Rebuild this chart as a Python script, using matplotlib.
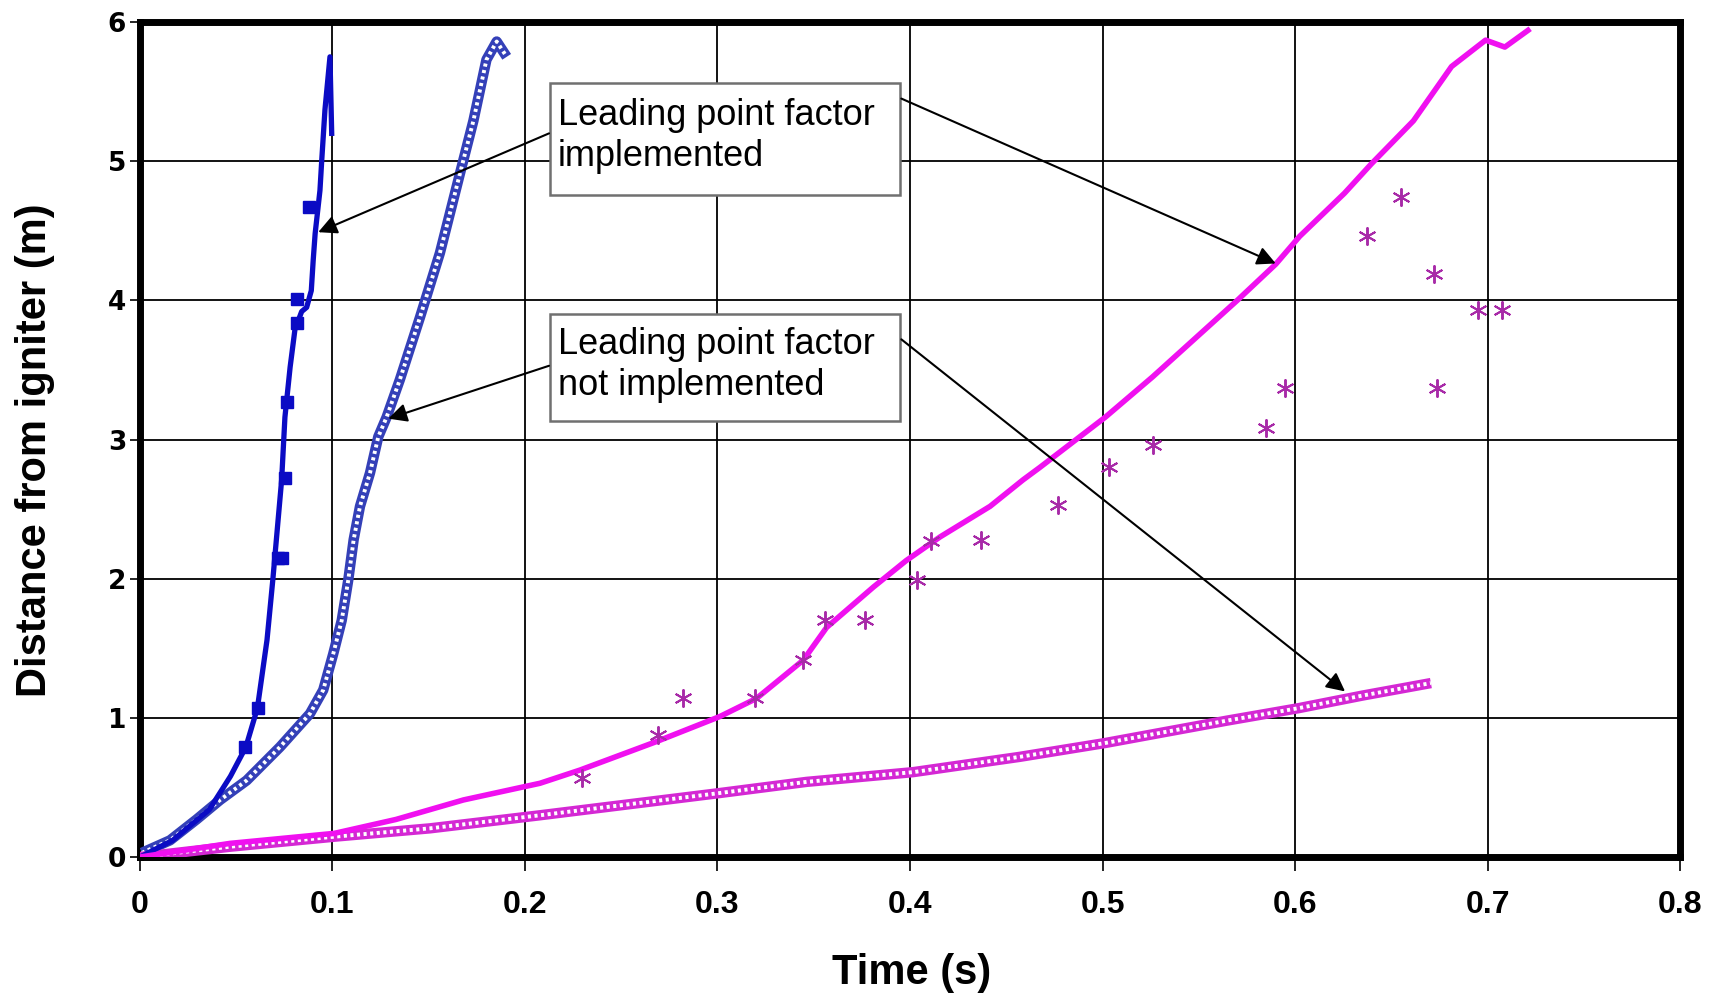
import matplotlib
matplotlib.use("Agg")
import matplotlib.pyplot as plt
from matplotlib.patches import Rectangle

plt.rcParams['font.family'] = ['Liberation Sans', 'DejaVu Sans']

# simulation, leading point factor implemented (blue, solid)
blue_impl_t = [0, 0.017, 0.036, 0.047, 0.055, 0.061, 0.066, 0.069, 0.0736, 0.0753, 0.078, 0.0805,
               0.084, 0.0866, 0.089, 0.090, 0.091, 0.0935, 0.0944, 0.0961, 0.0987, 0.0996]
blue_impl_d = [0, 0.12, 0.34, 0.58, 0.79, 1.07, 1.56, 1.99, 2.71, 3.16, 3.52, 3.79,
               3.92, 3.95, 4.07, 4.29, 4.48, 4.79, 5.0, 5.37, 5.75, 5.2]
# experiment (blue squares)
blue_exp_t = [0.0545, 0.0615, 0.0715, 0.074, 0.0755, 0.0765, 0.0814, 0.0814, 0.088]
blue_exp_d = [0.79, 1.07, 2.15, 2.15, 2.72, 3.27, 3.84, 4.01, 4.67]
# simulation, not implemented (blue, hatched)
blue_noimpl_t = [0.001, 0.0156, 0.0294, 0.0416, 0.0554, 0.0727, 0.0883, 0.0952, 0.1004, 0.1048,
                 0.1082, 0.111, 0.1143, 0.1195, 0.1238, 0.1281, 0.135, 0.1455, 0.1558, 0.1662,
                 0.1732, 0.18, 0.1853, 0.1905]
blue_noimpl_d = [0.03, 0.12, 0.27, 0.41, 0.55, 0.79, 1.03, 1.2, 1.46, 1.70,
                 1.99, 2.28, 2.52, 2.76, 3.02, 3.16, 3.43, 3.88, 4.34, 4.91,
                 5.29, 5.73, 5.86, 5.75]

# magenta series
mag_impl_t = [0, 0.0468, 0.101, 0.133, 0.168, 0.2078, 0.2286, 0.2684, 0.3013, 0.3203, 0.3446,
              0.3567, 0.381, 0.398, 0.4156, 0.4416, 0.4587, 0.4675, 0.5014, 0.526, 0.570, 0.590,
              0.6024, 0.6257, 0.6396, 0.6615, 0.6813, 0.699, 0.709, 0.721]
mag_impl_d = [0, 0.098, 0.17, 0.27, 0.41, 0.53, 0.625, 0.83, 1.01, 1.14, 1.415,
              1.65, 1.94, 2.13, 2.30, 2.52, 2.71, 2.80, 3.16, 3.45, 4.0, 4.26,
              4.46, 4.77, 4.98, 5.29, 5.68, 5.87, 5.82, 5.94]
mag_noimpl_t = [0, 0.0468, 0.101, 0.1506, 0.2078, 0.3013, 0.3463, 0.4017, 0.4571, 0.5017,
                0.5646, 0.602, 0.635, 0.6706]
mag_noimpl_d = [0, 0.074, 0.146, 0.206, 0.30, 0.46, 0.54, 0.61, 0.72, 0.82,
                0.98, 1.07, 1.16, 1.25]
mag_exp_t = [0.2294, 0.2693, 0.2823, 0.3195, 0.3446, 0.3558, 0.3766, 0.4035, 0.411, 0.437, 0.477,
             0.5034, 0.526, 0.585, 0.5948, 0.6376, 0.655, 0.672, 0.674, 0.695, 0.7075]
mag_exp_d = [0.565, 0.876, 1.14, 1.14, 1.415, 1.70, 1.70, 1.99, 2.27, 2.28, 2.53,
             2.80, 2.96, 3.08, 3.37, 4.46, 4.74, 4.19, 3.37, 3.93, 3.93]

x_ticks = [0, 0.1, 0.2, 0.3, 0.4, 0.5, 0.6, 0.7, 0.8]
x_labels = ["0", "0.1", "0.2", "0.3", "0.4", "0.5", "0.6", "0.7", "0.8"]
y_ticks = [0, 1, 2, 3, 4, 5, 6]

box1_text = "Leading point factor\nimplemented"
box2_text = "Leading point factor\nnot implemented"

fig = plt.figure(figsize=(17.11, 9.97), dpi=100)
ax = fig.add_axes([0.0818, 0.1404, 0.9001, 0.8375])

blue = '#0b0bc4'
blue_h = '#3440b8'
mag = '#f010f0'
mag_h = '#d428d4'
mag_pt = '#a82aa8'


def hatched(ax, t, d, color):
    # thick coloured band with white dots inside, like the excel pattern line
    ax.plot(t, d, color=color, lw=7.5, solid_capstyle='butt', solid_joinstyle='round', zorder=3)
    ax.plot(t, d, color='white', lw=2.8, ls=(0, (0.8, 0.9)), zorder=3)


hatched(ax, blue_noimpl_t, blue_noimpl_d, blue_h)
hatched(ax, mag_noimpl_t, mag_noimpl_d, mag_h)
ax.plot(blue_impl_t, blue_impl_d, color=blue, lw=3.8, zorder=4)
ax.plot(blue_exp_t, blue_exp_d, ls='none', marker='s', ms=9, color=blue, zorder=4)
ax.plot(mag_impl_t, mag_impl_d, color=mag, lw=4, zorder=4)
ax.plot(mag_exp_t, mag_exp_d, ls='none', marker=(6, 2, 0), ms=13, mew=1.4, color=mag_pt, zorder=4)

ax.set_xlim(0, 0.8)
ax.set_ylim(0, 6)
ax.set_xticks(x_ticks)
ax.set_xticklabels(x_labels)
ax.set_yticks(y_ticks)
ax.grid(True, color='black', lw=1.3)
ax.set_axisbelow(True)
for s in ax.spines.values():
    s.set_linewidth(5)
ax.tick_params(axis='x', direction='out', length=10, width=1.2, pad=14, labelsize=23)
ax.tick_params(axis='y', direction='out', length=7, width=1.2, pad=3, labelsize=19)
for lab in ax.get_xticklabels():
    lab.set_fontweight('bold')
for lab in ax.get_yticklabels():
    lab.set_fontweight('heavy')
    lab.set_family('DejaVu Sans')

ax.set_xlabel("Time (s)", fontsize=30, fontweight='bold')
ax.set_ylabel("Distance from igniter (m)", fontsize=30, fontweight='bold')
ax.xaxis.label.set_va('center')
ax.xaxis.set_label_coords(0.501, -0.139)
ax.yaxis.label.set_va('center')
ax.yaxis.set_label_coords(-0.068, 0.487)

# text boxes
for y0, y1, txt in [(4.76, 5.56, box1_text), (3.13, 3.90, box2_text)]:
    ax.add_patch(Rectangle((0.213, y0), 0.182, y1 - y0, facecolor='white', edgecolor='#707070',
                           lw=1.8, zorder=5))
    ax.text(0.217, (y0 + y1) / 2 + 0.02, txt, fontsize=26, va='center', ha='left',
            linespacing=1.2, zorder=6)

arrows = [((0.2125, 5.20), (0.0926, 4.49)),
          ((0.3955, 5.45), (0.590, 4.265)),
          ((0.2125, 3.53), (0.129, 3.15)),
          ((0.3955, 3.72), (0.626, 1.19))]
for start, tip in arrows:
    ax.annotate('', xy=tip, xytext=start, zorder=6,
                arrowprops=dict(arrowstyle='-|>', color='black', lw=1.5, mutation_scale=28,
                                shrinkA=0, shrinkB=0))

plt.savefig("out.png", dpi=100)
